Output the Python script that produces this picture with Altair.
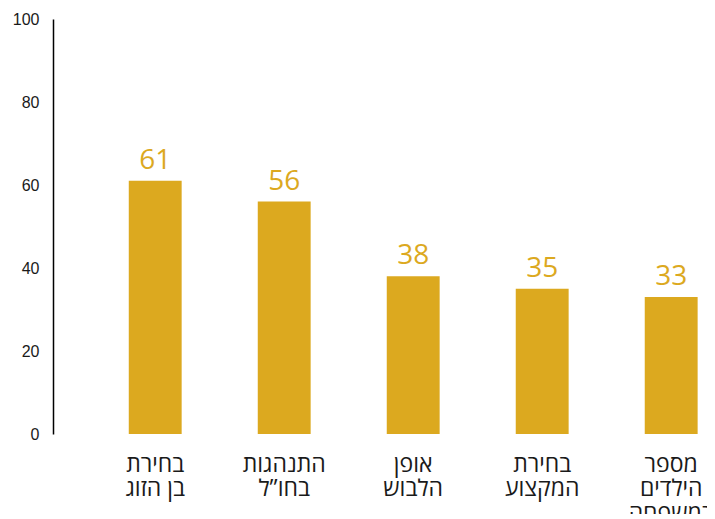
import altair as alt
import pandas as pd

categories = ["בחירת|בן הזוג", "התנהגות|בחו”ל", "אופן|הלבוש", "בחירת|המקצוע", "מספר|הילדים|במשפחה"]
values = [61, 56, 38, 35, 33]
y_ticks = [0, 20, 40, 60, 80, 100]

df = pd.DataFrame({"cat": categories, "val": values})

GOLD = "#DCA91F"

x = alt.X(
    "cat:N",
    sort=categories,
    title=None,
    scale=alt.Scale(paddingInner=0.59, paddingOuter=0.33, align=0.89),
    axis=alt.Axis(
        labelAngle=0,
        domain=False,
        ticks=False,
        grid=False,
        labelExpr="split(datum.label, '|')",
        labelFont="Open Sans",
        labelFontSize=23,
        labelLineHeight=24.5,
        labelColor="#1a1a1a",
        labelPadding=19,
        labelBaseline="top",
        labelOverlap=False,
    ),
)

y = alt.Y(
    "val:Q",
    title=None,
    scale=alt.Scale(domain=[0, 100], nice=False),
    axis=alt.Axis(
        values=y_ticks,
        grid=False,
        ticks=False,
        domainColor="#000000",
        domainWidth=1.5,
        labelFont="Liberation Sans",
        labelFontSize=16,
        labelColor="#1a1a1a",
        labelPadding=14,
    ),
)

base = alt.Chart(df).encode(x=x, y=y)

bars = base.mark_bar(color=GOLD)

text = base.mark_text(
    color=GOLD,
    font="Open Sans",
    fontSize=28,
    fontWeight=500,
    baseline="alphabetic",
    dy=-12,
).encode(text="val:Q")

chart = (
    alt.layer(bars, text)
    .properties(
        width=654,
        height=415,
        background="white",
        padding={"left": 45, "top": 11, "right": 0, "bottom": 80},
        autosize=alt.AutoSizeParams(type="none"),
    )
    .configure_view(stroke=None, strokeWidth=0)
)

chart.save("out.html", embed_options={"renderer": "svg", "actions": False})
